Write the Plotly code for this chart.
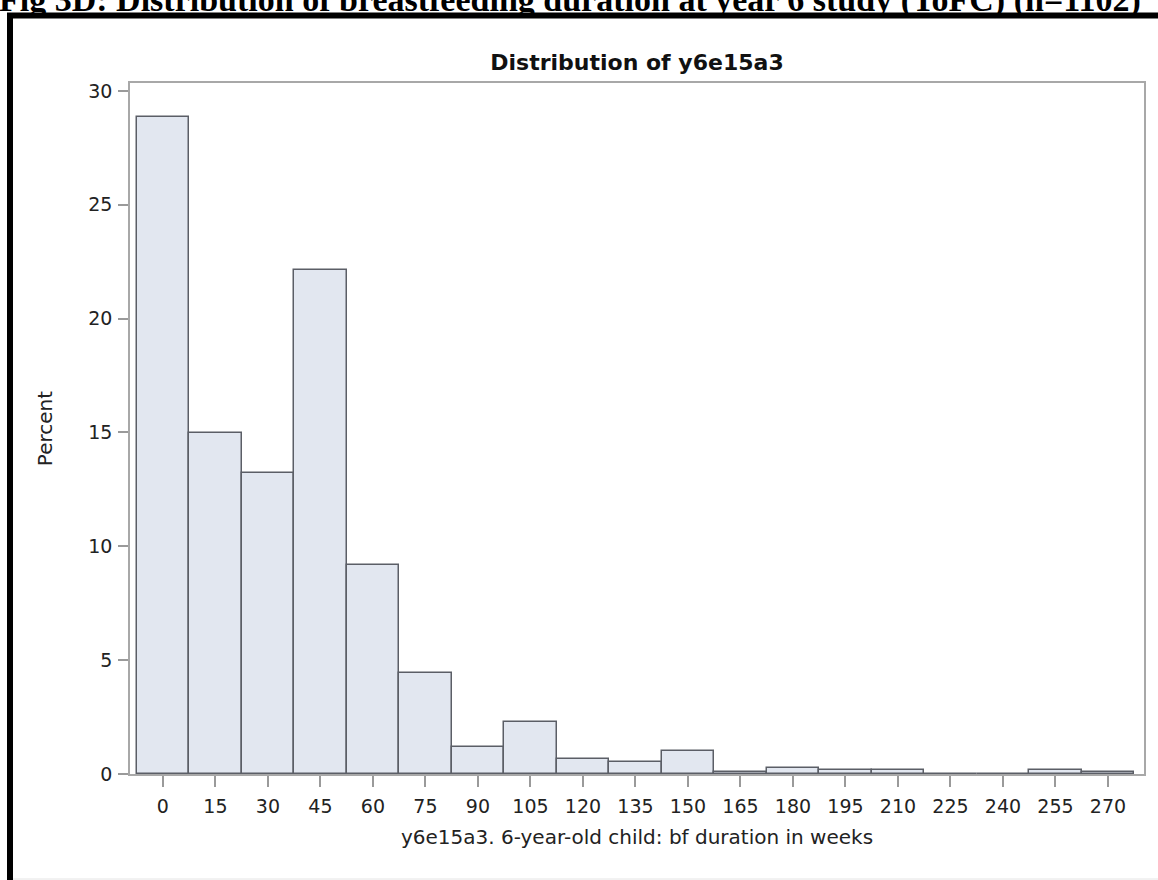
import plotly.graph_objects as go

bin_centers = [0, 15, 30, 45, 60, 75, 90, 105, 120, 135, 150, 165, 180, 195, 210, 225, 240, 255, 270]
percent = [28.86, 14.97, 13.22, 22.14, 9.17, 4.45, 1.18, 2.27, 0.64, 0.54, 1.00, 0.09, 0.27, 0.18, 0.18, 0.0, 0.0, 0.18, 0.09]
y_ticks = [0, 5, 10, 15, 20, 25, 30]

W, H = 1158, 880
L, R, T, B = 130, 14, 83, 106
PW, PH = W - L - R, H - T - B

def px_x(px):
    return (px - L) / PW

def px_y(py):
    return (H - B - py) / PH

FONT = "DejaVu Sans, Liberation Sans, Arial, sans-serif"

fig = go.Figure()
fig.add_trace(go.Bar(
    x=bin_centers, y=percent, width=15,
    marker=dict(color="#e2e7f0", line=dict(color="#5b5e66", width=1.5)),
    showlegend=False,
))

fig.update_layout(
    width=W, height=H,
    margin=dict(l=L, r=R, t=T, b=B),
    paper_bgcolor="white", plot_bgcolor="white",
    font=dict(family=FONT, color="#222222"),
    title=dict(text="<b>Distribution of y6e15a3</b>", x=px_x(637), xref="paper",
               xanchor="center", y=1 - 62 / H, yanchor="middle",
               font=dict(family=FONT, size=22, color="#111111")),
    bargap=0,
)
fig.update_xaxes(
    range=[-9.4, 280.3], tickmode="array", tickvals=bin_centers,
    ticktext=[str(v) for v in bin_centers],
    ticks="outside", ticklen=11, tickcolor="#9a9a9a", tickwidth=1.5,
    showline=True, linecolor="#a8a8a8", linewidth=1.5, mirror=True,
    showgrid=False, zeroline=False,
    tickfont=dict(size=19, color="#222222"),
    ticklabelstandoff=3,
    title=dict(text="y6e15a3. 6-year-old child: bf duration in weeks",
               font=dict(size=20, color="#222222"), standoff=14),
)
fig.update_yaxes(
    range=[0, 30.35], tickmode="array", tickvals=y_ticks,
    ticks="outside", ticklen=10, tickcolor="#9a9a9a", tickwidth=1.5,
    showline=True, linecolor="#a8a8a8", linewidth=1.5, mirror=True,
    showgrid=False, zeroline=False,
    tickfont=dict(size=19, color="#222222"),
    ticklabelstandoff=2,
    title=dict(text="Percent", font=dict(size=20, color="#222222"), standoff=30),
)

# outer black frame (right and bottom edges lie outside the picture)
fig.add_shape(type="rect", xref="paper", yref="paper",
              x0=px_x(10), x1=px_x(1175), y0=px_y(15.5), y1=px_y(905),
              line=dict(color="black", width=6), fillcolor="rgba(0,0,0,0)", layer="above")
# faint bottom edge of the graph image
fig.add_shape(type="line", xref="paper", yref="paper",
              x0=px_x(13), x1=px_x(1158), y0=px_y(879), y1=px_y(879),
              line=dict(color="#e4e4e4", width=1), layer="above")

# header caption cut off at the top
fig.add_annotation(
    text="<b>Fig 3D: Distribution of breastfeeding duration at year 6 study (ToFC) (n=1102)</b>",
    xref="paper", yref="paper", x=px_x(-3), y=px_y(21), xanchor="left", yanchor="bottom",
    showarrow=False, font=dict(family="Liberation Serif, Times New Roman, serif", size=34, color="black"),
)

fig.write_html("out.html", config={"displayModeBar": False},
               post_script="document.body.style.margin='0';document.body.style.padding='0';")
